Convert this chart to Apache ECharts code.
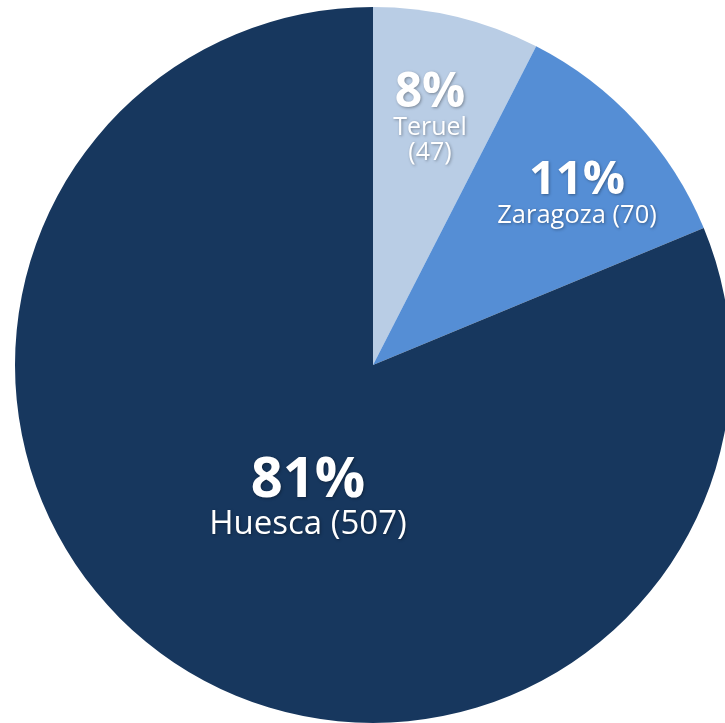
<!DOCTYPE html>
<html><head><meta charset="utf-8">
<script src="https://cdn.jsdelivr.net/npm/echarts@6/dist/echarts.min.js"></script>
<style>html,body{margin:0;padding:0;background:#fff}#c{width:725px;height:723px}</style>
</head><body><div id="c"></div>
<script>
const categories = ['Teruel', 'Zaragoza', 'Huesca'];
const values = [47, 70, 507];
const colors = ['#b9cde5', '#558ed5', '#17375e'];
// label styling (sizes / positions) per slice
const pctSizes = [48, 47, 56];
const nameSizes = [25, 25.5, 33];
const labelPos = [[430, 118], [577, 193], [308, 498]];
const twoLine = [true, false, false];

const chart = echarts.init(document.getElementById('c'));
const data = categories.map((n, i) => ({
  name: n, value: values[i],
  itemStyle: { color: colors[i] },
  label: {
    rich: {
      p: { fontSize: pctSizes[i], fontWeight: 'bold', color: '#fff', fontFamily: 'Open Sans', lineHeight: pctSizes[i] * 0.95 },
      n: { fontSize: nameSizes[i], color: '#fff', fontFamily: 'Open Sans', lineHeight: nameSizes[i] * 1.0 }
    }
  }
}));
chart.setOption({
  animation: false,
  series: [{
    type: 'pie',
    center: [373, 365],
    radius: 358,
    startAngle: 90,
    clockwise: true,
    data: data,
    itemStyle: { borderWidth: 0 },
    label: {
      position: 'inside',
      align: 'center',
      textShadowColor: 'rgba(0,0,0,0.35)',
      textShadowBlur: 3,
      textShadowOffsetX: 1,
      textShadowOffsetY: 1,
      formatter: p => {
        const i = p.dataIndex;
        const pct = Math.round(p.percent) + '%';
        return twoLine[i]
          ? '{p|' + pct + '}\n{n|' + p.name + '}\n{n|(' + p.value + ')}'
          : '{p|' + pct + '}\n{n|' + p.name + ' (' + p.value + ')}';
      }
    },
    labelLine: { show: false },
    emphasis: { disabled: true },
    labelLayout: params => ({
      x: labelPos[params.dataIndex][0],
      y: labelPos[params.dataIndex][1],
      align: 'center',
      verticalAlign: 'middle'
    })
  }]
});
</script></body></html>
